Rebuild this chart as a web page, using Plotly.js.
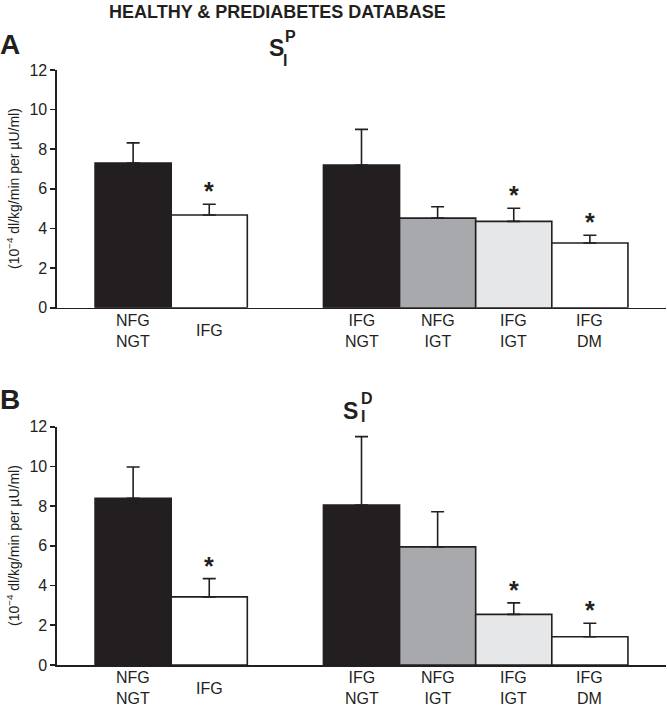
<!DOCTYPE html>
<html>
<head>
<meta charset="utf-8">
<script src="https://cdn.plot.ly/plotly-3.0.1.min.js"></script>
<style>html,body{margin:0;padding:0;background:#fff;}#chart{width:667px;height:707px;}</style>
</head>
<body>
<div id="chart"></div>
<script>
// ---- data ----
const categories = ['NFG<br>NGT', 'IFG', '-', 'IFG<br>NGT', 'NFG<br>IGT', 'IFG<br>IGT', 'IFG<br>DM'];
const groups = ['NFG<br>NGT', 'IFG', 'IFG<br>NGT', 'NFG<br>IGT', 'IFG<br>IGT', 'IFG<br>DM'];
const siP = [7.3, 4.68, 7.2, 4.52, 4.36, 3.27];
const siPse = [1.02, 0.54, 1.8, 0.58, 0.66, 0.39];
const siD = [8.4, 3.43, 8.05, 5.95, 2.55, 1.42];
const siDse = [1.57, 0.92, 3.45, 1.77, 0.58, 0.68];
const significant = [false, true, false, false, true, true];
const yTicks = [0, 2, 4, 6, 8, 10, 12];

// ---- styles ----
const barColors = ['#231f20', '#ffffff', '#231f20', '#a7a9ac', '#e6e7e8', '#ffffff'];
const FONT = 'Liberation Sans, Arial, Helvetica, sans-serif';
const W = 667, H = 707, ML = 57, MR = 1, MT = 70, MB = 42;
const PW = W - ML - MR, PH = H - MT - MB;
const px = x => (x - ML) / PW;
const py = y => (H - MB - y) / PH;

function barTrace(vals, se, xa, ya) {
  return {
    type: 'bar', x: groups, y: vals, xaxis: xa, yaxis: ya,
    width: 1,
    marker: {color: barColors, line: {color: '#231f20', width: 1.6}},
    error_y: {type: 'data', symmetric: false, array: se, arrayminus: se.map(() => 0),
      color: '#231f20', thickness: 1.6, width: 6.5},
    hoverinfo: 'skip', showlegend: false
  };
}

const data = [barTrace(siP, siPse, 'x', 'y'), barTrace(siD, siDse, 'x2', 'y2')];

const xBase = {
  type: 'category', categoryorder: 'array', categoryarray: categories,
  range: [-1, 7], showline: true, linecolor: '#231f20', linewidth: 1.6,
  ticks: '', showticklabels: false, showgrid: false, zeroline: false, fixedrange: true
};
const yBase = {
  range: [0, 12], tickvals: yTicks, showline: true, linecolor: '#231f20', linewidth: 1.6,
  ticks: 'outside', ticklen: 5, tickwidth: 1.6, tickcolor: '#231f20',
  tickfont: {family: FONT, size: 16, color: '#231f20'},
  showgrid: false, zeroline: false, fixedrange: true
};

const annotations = [];
function panelAnnots(vals, se, xref, yref) {
  groups.forEach((g, i) => {
    annotations.push({x: g, y: 0, xref: xref, yref: yref, text: g, showarrow: false,
      yanchor: 'middle', yshift: -23, borderpad: 0, font: {family: FONT, size: 16, color: '#231f20'}});
    if (significant[i]) {
      annotations.push({x: g, y: vals[i] + se[i], xref: xref, yref: yref, text: '*', showarrow: false,
        yanchor: 'bottom', yshift: -3, font: {family: FONT, size: 25, color: '#231f20', weight: 'bold'}});
    }
  });
}
panelAnnots(siP, siPse, 'x', 'y');
panelAnnots(siD, siDse, 'x2', 'y2');

const yTitle = '(10<sup>\u22124</sup> dl/kg/min per \u00b5U/ml)';
[189, 546].forEach(cy => {
  annotations.push({xref: 'paper', yref: 'paper', x: px(13), y: py(cy), text: yTitle, textangle: -90,
    showarrow: false, xanchor: 'center', yanchor: 'middle', font: {family: FONT, size: 14, color: '#231f20'}});
});

function txt(t, x, y, size) {
  annotations.push({xref: 'paper', yref: 'paper', x: px(x), y: py(y), text: '<b>' + t + '</b>', showarrow: false,
    xanchor: 'center', yanchor: 'middle', font: {family: FONT, size: size, color: '#231f20'}});
}
txt('HEALTHY &amp; PREDIABETES DATABASE', 277, 12, 18);
txt('A', 10, 45, 28);
txt('B', 10, 399, 28);
txt('S', 276, 48, 23);
txt('P', 290, 37, 16);
txt('I', 285, 60, 16);
txt('S', 350, 411, 23);
txt('D', 367, 398, 16);
txt('I', 363, 417, 16);

const layout = {
  width: W, height: H, margin: {l: ML, r: MR, t: MT, b: MB},
  paper_bgcolor: '#fff', plot_bgcolor: 'rgba(0,0,0,0)',
  bargap: 0, showlegend: false,
  xaxis: Object.assign({}, xBase, {anchor: 'y'}),
  yaxis: Object.assign({}, yBase, {domain: [py(307.7), 1], anchor: 'x'}),
  xaxis2: Object.assign({}, xBase, {anchor: 'y2'}),
  yaxis2: Object.assign({}, yBase, {domain: [0, py(426.7)], anchor: 'x2'}),
  annotations: annotations
};

Plotly.newPlot('chart', data, layout, {staticPlot: true, displayModeBar: false});
</script>
</body>
</html>
